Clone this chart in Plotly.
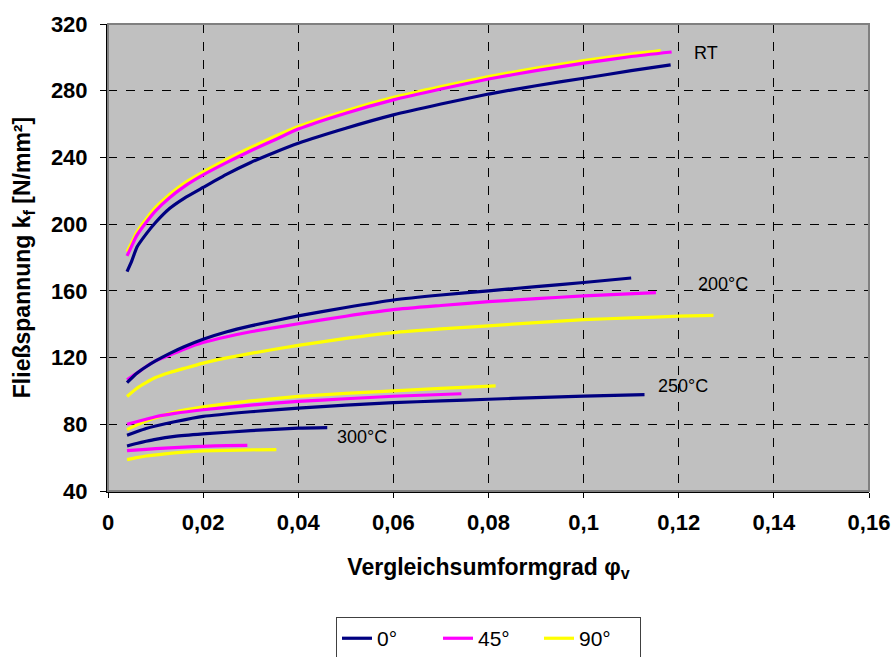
import plotly.graph_objects as go

# ---- data ----
# RT
rt_0_x = [0.004, 0.005, 0.0061, 0.008, 0.010, 0.013, 0.016, 0.020, 0.025, 0.030, 0.035, 0.040, 0.050, 0.060, 0.070, 0.080, 0.090, 0.100, 0.110, 0.1183]
rt_0_y = [171.5, 178.0, 186.3, 194.0, 201.0, 209.5, 215.5, 222.0, 230.0, 237.0, 243.0, 248.5, 257.5, 265.5, 272.0, 278.0, 283.0, 287.5, 292.0, 295.5]
rt_45_x = [0.004, 0.005, 0.006, 0.008, 0.010, 0.013, 0.016, 0.020, 0.025, 0.030, 0.035, 0.040, 0.050, 0.060, 0.070, 0.080, 0.090, 0.100, 0.110, 0.1185]
rt_45_y = [181.0, 187.0, 193.0, 201.0, 208.0, 216.0, 222.5, 229.5, 237.0, 244.0, 250.5, 257.0, 266.5, 274.5, 281.0, 287.0, 292.0, 296.5, 300.5, 303.2]
rt_90_x = [0.004, 0.005, 0.006, 0.008, 0.010, 0.013, 0.016, 0.020, 0.025, 0.030, 0.035, 0.040, 0.050, 0.060, 0.070, 0.080, 0.090, 0.100, 0.110, 0.1162]
rt_90_y = [183.5, 189.0, 195.0, 203.0, 210.0, 218.0, 224.5, 231.3, 239.0, 246.0, 252.5, 258.5, 268.0, 276.0, 282.5, 288.5, 293.5, 298.0, 302.0, 304.0]

# 200 °C
t200_0_x = [0.004, 0.006, 0.008, 0.010, 0.013, 0.016, 0.020, 0.025, 0.030, 0.040, 0.050, 0.060, 0.070, 0.080, 0.090, 0.100, 0.110]
t200_0_y = [105.0, 110.5, 114.5, 118.0, 122.5, 126.5, 131.0, 135.5, 139.0, 145.0, 150.0, 154.5, 157.5, 160.0, 162.5, 165.0, 167.7]
t200_45_x = [0.004, 0.006, 0.008, 0.010, 0.013, 0.016, 0.020, 0.025, 0.030, 0.040, 0.050, 0.060, 0.070, 0.080, 0.090, 0.100, 0.1152]
t200_45_y = [106.7, 110.5, 114.5, 118.0, 121.5, 125.0, 129.0, 132.5, 135.5, 140.3, 144.8, 148.7, 151.2, 153.5, 155.3, 157.0, 159.0]
t200_90_x = [0.004, 0.006, 0.008, 0.010, 0.013, 0.016, 0.020, 0.025, 0.030, 0.040, 0.050, 0.060, 0.070, 0.080, 0.090, 0.100, 0.110, 0.120, 0.1273]
t200_90_y = [96.7, 101.5, 105.0, 108.0, 111.0, 113.5, 116.7, 119.8, 122.5, 127.3, 131.5, 135.0, 137.2, 139.0, 141.0, 142.7, 143.8, 144.8, 145.3]

# 250 °C
t250_0_x = [0.004, 0.006, 0.008, 0.010, 0.014, 0.020, 0.030, 0.040, 0.050, 0.060, 0.070, 0.080, 0.090, 0.100, 0.1128]
t250_0_y = [73.4, 75.5, 77.5, 79.0, 81.5, 84.7, 87.5, 89.7, 91.5, 93.0, 94.0, 95.0, 96.0, 96.9, 97.8]
t250_45_x = [0.004, 0.006, 0.008, 0.010, 0.014, 0.020, 0.030, 0.040, 0.050, 0.060, 0.0743]
t250_45_y = [80.0, 81.5, 83.0, 84.5, 86.5, 88.7, 91.5, 93.7, 95.3, 96.8, 98.3]
t250_90_x = [0.004, 0.006, 0.008, 0.010, 0.014, 0.020, 0.030, 0.040, 0.050, 0.060, 0.070, 0.0815]
t250_90_y = [76.8, 79.5, 82.0, 84.0, 87.3, 90.4, 94.0, 96.7, 98.5, 100.0, 101.5, 103.0]

# 300 °C
t300_0_x = [0.004, 0.006, 0.008, 0.010, 0.014, 0.020, 0.030, 0.040, 0.0461]
t300_0_y = [67.0, 68.5, 69.8, 71.0, 72.7, 74.2, 76.2, 77.7, 78.0]
t300_45_x = [0.004, 0.008, 0.012, 0.016, 0.020, 0.025, 0.0293]
t300_45_y = [64.2, 65.0, 65.7, 66.3, 66.8, 67.2, 67.4]
t300_90_x = [0.004, 0.006, 0.008, 0.012, 0.016, 0.020, 0.025, 0.030, 0.0354]
t300_90_y = [58.8, 60.0, 61.0, 62.3, 63.3, 64.0, 64.4, 64.7, 64.8]

series_names = ["0°", "45°", "90°"]
series_colors = ["#000080", "#FF00FF", "#FFFF00"]

groups = [
    [(rt_0_x, rt_0_y), (rt_45_x, rt_45_y), (rt_90_x, rt_90_y)],
    [(t200_0_x, t200_0_y), (t200_45_x, t200_45_y), (t200_90_x, t200_90_y)],
    [(t250_0_x, t250_0_y), (t250_45_x, t250_45_y), (t250_90_x, t250_90_y)],
    [(t300_0_x, t300_0_y), (t300_45_x, t300_45_y), (t300_90_x, t300_90_y)],
]

label_texts = ["RT", "200°C", "250°C", "300°C"]
label_x = [0.1257, 0.1293, 0.1209, 0.0533]
label_y = [302.6, 164.4, 102.7, 72.5]

x_ticks = [0, 0.02, 0.04, 0.06, 0.08, 0.10, 0.12, 0.14, 0.16]
x_tick_text = ["0", "0,02", "0,04", "0,06", "0,08", "0,1", "0,12", "0,14", "0,16"]
y_ticks = [40, 80, 120, 160, 200, 240, 280, 320]

FONT = "Liberation Sans, Arial"

fig = go.Figure()

for gi, grp in enumerate(groups):
    for si in [2, 1, 0]:
        xs, ys = grp[si]
        fig.add_trace(go.Scatter(
            x=xs, y=ys, mode="lines",
            line=dict(color=series_colors[si], width=3.2, shape="spline", smoothing=0.5),
            name=series_names[si],
            legendgroup=series_names[si],
            showlegend=(gi == 0),
            legendrank=si + 1,
        ))

for t, lx, ly in zip(label_texts, label_x, label_y):
    fig.add_annotation(x=lx, y=ly, text=t, showarrow=False,
                       font=dict(family=FONT, size=18, color="black"))

fig.add_shape(type="rect", xref="paper", yref="paper", x0=0, y0=0, x1=1, y1=1,
              line=dict(color="#808080", width=2), layer="above")

fig.update_layout(
    width=895, height=657,
    margin=dict(l=108, r=26, t=24, b=166, autoexpand=False),
    paper_bgcolor="white",
    plot_bgcolor="#C0C0C0",
    showlegend=True,
    legend=dict(orientation="h", x=0.5, xanchor="center", y=-0.27, yanchor="top",
                bordercolor="#404040", borderwidth=1,
                font=dict(family=FONT, size=21, color="black"),
                traceorder="normal", entrywidth=56),
    xaxis=dict(range=[0, 0.16], tickvals=x_ticks, ticktext=x_tick_text,
               showgrid=True, gridcolor="black", griddash="dash", gridwidth=1,
               showline=True, linecolor="black", linewidth=2,
               ticks="outside", ticklen=5, tickcolor="black",
               zeroline=False, ticklabelstandoff=6,
               tickfont=dict(family=FONT, size=22, color="black", weight="bold"),
               title=dict(text="Vergleichsumformgrad φ<sub>v</sub>", standoff=24,
                          font=dict(family=FONT, size=23, color="black", weight="bold"))),
    yaxis=dict(range=[40, 320], tickvals=y_ticks,
               showgrid=True, gridcolor="black", griddash="dash", gridwidth=1,
               showline=True, linecolor="black", linewidth=2,
               ticks="outside", ticklen=6, tickcolor="black",
               zeroline=False, ticklabelstandoff=8,
               tickfont=dict(family=FONT, size=22, color="black", weight="bold"),
               title=dict(text="Fließspannung k<sub>f</sub> [N/mm²]", standoff=14,
                          font=dict(family=FONT, size=23, color="black", weight="bold"))),
)

fig.write_html("out.html")
